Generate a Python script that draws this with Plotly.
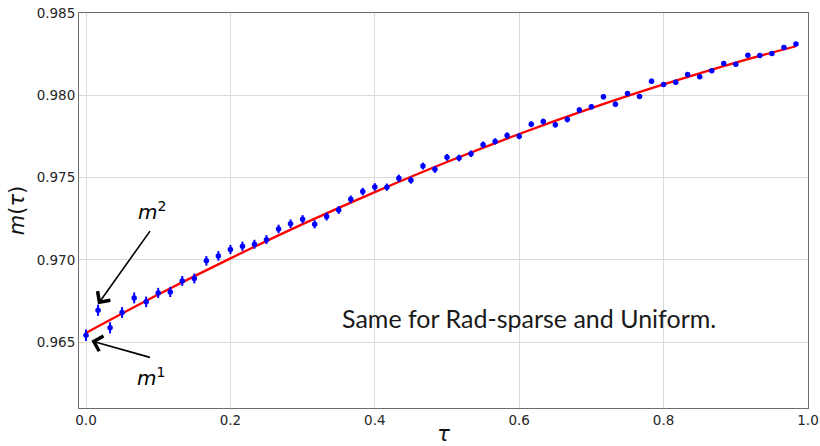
import plotly.graph_objects as go

# ---- data ----
tau = [0.0000, 0.0167, 0.0333, 0.0500, 0.0667, 0.0833, 0.1000, 0.1167, 0.1333, 0.1500,
       0.1667, 0.1833, 0.2000, 0.2167, 0.2333, 0.2500, 0.2667, 0.2833, 0.3000, 0.3167,
       0.3333, 0.3500, 0.3667, 0.3833, 0.4000, 0.4167, 0.4333, 0.4500, 0.4667, 0.4833,
       0.5000, 0.5167, 0.5333, 0.5500, 0.5667, 0.5833, 0.6000, 0.6167, 0.6333, 0.6500,
       0.6667, 0.6833, 0.7000, 0.7167, 0.7333, 0.7500, 0.7667, 0.7833, 0.8000, 0.8167,
       0.8333, 0.8500, 0.8667, 0.8833, 0.9000, 0.9167, 0.9333, 0.9500, 0.9667, 0.9833]

m_tau = [0.96542, 0.96694, 0.96587, 0.96680, 0.96769, 0.96745, 0.96799, 0.96805, 0.96872, 0.96887,
         0.96994, 0.97024, 0.97063, 0.97083, 0.97095, 0.97123, 0.97188, 0.97220, 0.97247, 0.97216,
         0.97263, 0.97303, 0.97368, 0.97415, 0.97443, 0.97442, 0.97496, 0.97484, 0.97570, 0.97550,
         0.97623, 0.97619, 0.97645, 0.97700, 0.97720, 0.97755, 0.97751, 0.97824, 0.97840, 0.97821,
         0.97853, 0.97910, 0.97931, 0.97991, 0.97946, 0.98011, 0.97993, 0.98086, 0.98066, 0.98080,
         0.98127, 0.98113, 0.98149, 0.98193, 0.98189, 0.98244, 0.98242, 0.98254, 0.98291, 0.98311]

m_err = [0.00035, 0.00034, 0.00034, 0.00033, 0.00033, 0.00032, 0.00031, 0.00031, 0.00030, 0.00030,
         0.00029, 0.00029, 0.00028, 0.00028, 0.00027, 0.00027, 0.00026, 0.00026, 0.00025, 0.00025,
         0.00024, 0.00024, 0.00023, 0.00023, 0.00023, 0.00022, 0.00022, 0.00021, 0.00021, 0.00021,
         0.00020, 0.00020, 0.00020, 0.00019, 0.00019, 0.00019, 0.00018, 0.00018, 0.00018, 0.00017,
         0.00017, 0.00017, 0.00016, 0.00016, 0.00016, 0.00015, 0.00015, 0.00015, 0.00014, 0.00014,
         0.00014, 0.00014, 0.00013, 0.00013, 0.00013, 0.00013, 0.00012, 0.00012, 0.00012, 0.00012]

fit_tau = [0.0, 0.1, 0.2, 0.3, 0.4, 0.5, 0.6, 0.7, 0.8, 0.9, 0.9833]
fit_m = [0.96556, 0.96789, 0.97009, 0.97217, 0.97412, 0.97595, 0.97765, 0.97922, 0.98066, 0.98199, 0.98298]

x_ticks = [0.0, 0.2, 0.4, 0.6, 0.8, 1.0]
x_tick_labels = ["0.0", "0.2", "0.4", "0.6", "0.8", "1.0"]
y_ticks = [0.965, 0.970, 0.975, 0.980, 0.985]
y_tick_labels = ["0.965", "0.970", "0.975", "0.980", "0.985"]

note_text = "Same for Rad-sparse and Uniform."

fig = go.Figure()

fig.add_trace(go.Scatter(
    x=fit_tau, y=fit_m, mode="lines",
    line=dict(color="red", width=2.3, shape="spline"),
    showlegend=False, hoverinfo="skip"))

fig.add_trace(go.Scatter(
    x=tau, y=m_tau, mode="markers",
    marker=dict(color="blue", size=5.5, line=dict(width=0)),
    error_y=dict(type="data", array=m_err, visible=True, color="blue",
                 thickness=2, width=0),
    showlegend=False))

axis_common = dict(
    showline=True, linecolor="#6e6e6e", linewidth=1, mirror=True,
    showgrid=True, gridcolor="#dadada", gridwidth=1,
    zeroline=False, ticks="", automargin=False,
    tickfont=dict(family="DejaVu Sans", size=13.5, color="#262626"),
)

fig.update_xaxes(range=[-0.0097, 1.0], tickvals=x_ticks, ticktext=x_tick_labels,
                 title=dict(text="<i>τ</i>", font=dict(family="DejaVu Sans", size=21, color="#111"),
                            standoff=0),
                 **axis_common)
fig.update_yaxes(range=[0.96100, 0.98500], tickvals=y_ticks, ticktext=y_tick_labels,
                 title=dict(text="<i>m</i>(<i>τ</i>)", font=dict(family="DejaVu Sans", size=21, color="#111"),
                            standoff=6),
                 **axis_common)

ann_font = dict(family="DejaVu Sans", size=20, color="black")

annotations = [
    # m^2 arrow
    dict(x=0.0166, y=0.96731, ax=0.0901, ay=0.97184, xref="x", yref="y", axref="x", ayref="y",
         text="", showarrow=True, arrowhead=4, arrowsize=1.9, arrowwidth=1.6, arrowcolor="black"),
    # m^1 arrow
    dict(x=0.0075, y=0.96508, ax=0.0906, ay=0.96405, xref="x", yref="y", axref="x", ayref="y",
         text="", showarrow=True, arrowhead=4, arrowsize=1.9, arrowwidth=1.6, arrowcolor="black"),
    dict(x=0.091, y=0.97300, xref="x", yref="y", text="<i>m</i><sup>2</sup>", showarrow=False,
         font=ann_font, xanchor="center", yanchor="middle"),
    dict(x=0.090, y=0.96290, xref="x", yref="y", text="<i>m</i><sup>1</sup>", showarrow=False,
         font=ann_font, xanchor="center", yanchor="middle"),
    dict(x=0.613, y=0.96646, xref="x", yref="y", text=note_text, showarrow=False,
         font=dict(family="Lato", size=25, color="#1a1a1a"), xanchor="center", yanchor="middle"),
]

fig.update_layout(
    width=820, height=446,
    margin=dict(l=79, r=11.5, t=12.5, b=37.7),
    paper_bgcolor="white", plot_bgcolor="white",
    annotations=annotations,
    showlegend=False,
)

fig.write_html("out.html")
